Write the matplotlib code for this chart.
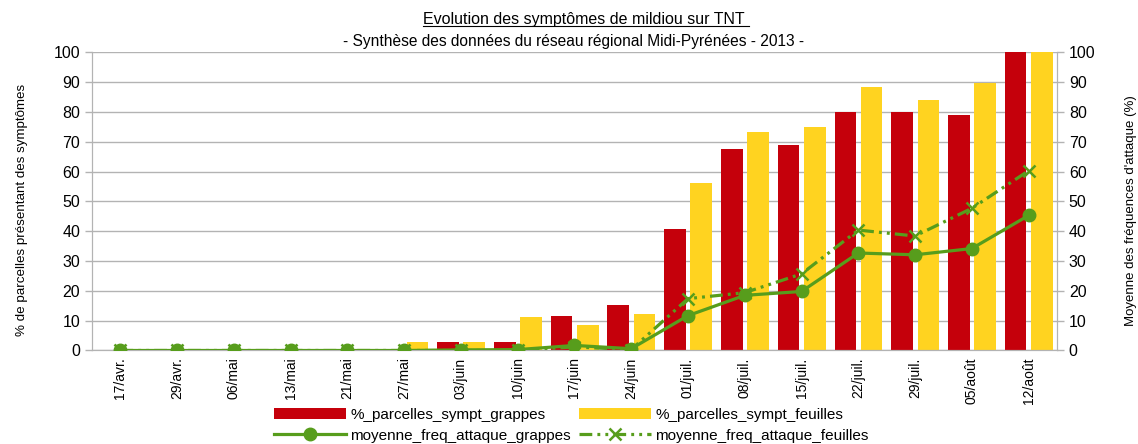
import matplotlib
matplotlib.use("Agg")
import matplotlib.pyplot as plt
import numpy as np
from matplotlib.lines import Line2D

plt.rcParams['font.family'] = ['Liberation Sans', 'DejaVu Sans']

categories = ["17/avr.", "29/avr.", "06/mai", "13/mai", "21/mai", "27/mai", "03/juin",
              "10/juin", "17/juin", "24/juin", "01/juil.", "08/juil.", "15/juil.",
              "22/juil.", "29/juil.", "05/août", "12/août"]
parcelles_grappes = [0, 0, 0, 0, 0, 0, 2.7, 2.7, 11.7, 15.1, 40.6, 67.6, 69.0, 80.1, 80.1, 79.1, 100]
parcelles_feuilles = [0, 0, 0, 0, 0, 2.7, 2.7, 11.4, 8.7, 12.4, 56.2, 73.4, 75.0, 88.5, 84.1, 89.8, 100]
freq_grappes = [0, 0, 0, 0, 0, 0, 0.2, 0.3, 1.7, 0.6, 11.7, 18.5, 19.8, 32.7, 32.1, 34.2, 45.3]
freq_feuilles = [0, 0, 0, 0, 0, 0, 0, 0, 1.2, 0.3, 17.4, 19.4, 25.7, 40.4, 38.4, 47.7, 60.3]
yticks = list(range(0, 101, 10))

RED = "#C5000B"
YELLOW = "#FFD320"
GREEN = "#579D1C"
GRID = "#B3B3B3"

fig = plt.figure(figsize=(11.38, 4.44), dpi=100)
ax = fig.add_axes([0.0808, 0.2106, 0.848, 0.6714])
ax2 = ax.twinx()

x = np.arange(len(categories))
w = 0.382
b1 = ax.bar(x - 0.228, parcelles_grappes, width=w, color=RED, zorder=2)
b2 = ax.bar(x + 0.235, parcelles_feuilles, width=w, color=YELLOW, zorder=2)

l1, = ax2.plot(x, freq_grappes, color=GREEN, lw=2.3, marker='o', markersize=9,
               markeredgecolor=GREEN, markerfacecolor=GREEN, zorder=3)
l2, = ax2.plot(x, freq_feuilles, color=GREEN, lw=2.3, marker='x', markersize=9,
               markeredgewidth=1.8, dashes=(4.0, 1.6, 0.9, 1.6, 0.9, 1.6), zorder=4)

for a in (ax, ax2):
    a.set_xlim(-0.5, len(categories) - 0.5)
    a.set_ylim(0, 100)
    a.set_yticks(yticks)
    for s in a.spines.values():
        s.set_color(GRID)
    a.spines['top'].set_visible(False)
    a.tick_params(axis='y', colors=GRID, labelcolor='black', labelsize=11.5, length=5, width=1)

ax.set_axisbelow(True)
ax.yaxis.grid(True, color=GRID, lw=1)
ax.set_xticks(np.arange(-0.5, len(categories), 1.0))
ax.set_xticklabels([])
ax.set_xticks(x, minor=True)
ax.set_xticklabels(categories, minor=True, rotation=90, fontsize=10)
ax.tick_params(axis='x', which='major', colors=GRID, length=5, width=1)
ax.tick_params(axis='x', which='minor', length=0, labelcolor='black', pad=5)
ax2.set_xticks([])

ax.set_ylabel("% de parcelles présentant des symptômes", fontsize=9.6)
ax.yaxis.set_label_coords(-0.066, 0.47)
ax2.set_ylabel("Moyenne des fréquences d'attaque (%)", fontsize=9.5)
ax2.yaxis.set_label_coords(1.070, 0.47)

t = fig.text(0.513, 0.957, "Evolution des symptômes de mildiou sur TNT", ha='center', va='center', fontsize=11.5)
fig.text(0.504, 0.907, "- Synthèse des données du réseau régional Midi-Pyrénées - 2013 -", ha='center', va='center', fontsize=11.2)

fig.legend([b1, l1, b2, l2],
           ["%_parcelles_sympt_grappes", "moyenne_freq_attaque_grappes",
            "%_parcelles_sympt_feuilles", "moyenne_freq_attaque_feuilles"],
           ncol=2, loc='lower center', bbox_to_anchor=(0.502, -0.018), frameon=False,
           fontsize=11, handlelength=4.7, handletextpad=0.3, columnspacing=0.5,
           labelspacing=0.45, borderaxespad=0.2)

fig.canvas.draw()
bb = t.get_window_extent(renderer=fig.canvas.get_renderer())
inv = fig.transFigure.inverted()
(x0, y0), (x1, y1) = inv.transform([(bb.x0, bb.y0), (bb.x1, bb.y0)])
fig.add_artist(Line2D([x0, x1 + 0.004], [y0 + 0.002, y0 + 0.002], color='black', lw=0.8, transform=fig.transFigure))

fig.savefig("out.png", dpi=100)
